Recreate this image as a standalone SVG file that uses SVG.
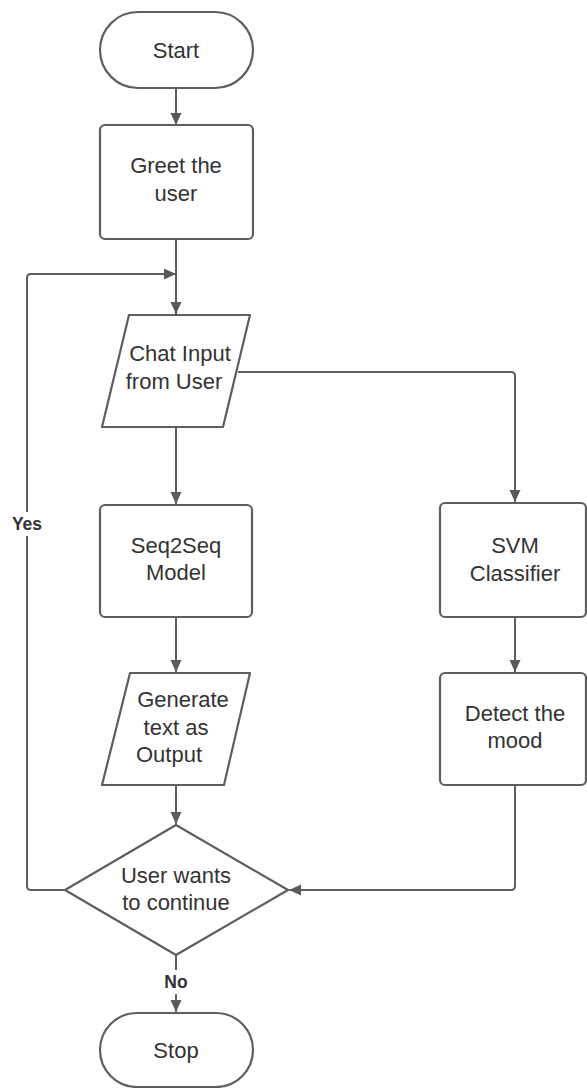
<svg xmlns="http://www.w3.org/2000/svg" width="587" height="1088" viewBox="0 0 587 1088">
<defs>
<marker id="arr" markerUnits="userSpaceOnUse" markerWidth="12" markerHeight="12" refX="12" refY="6" orient="auto">
<path d="M0,0.5 L12,6 L0,11.5 z" fill="#5a5a5a"/>
</marker>
<style>
.shape{fill:#ffffff;stroke:#5e5e5e;stroke-width:2.2;stroke-linejoin:round}
.conn{fill:none;stroke:#5e5e5e;stroke-width:2;marker-end:url(#arr)}
.line{fill:none;stroke:#5e5e5e;stroke-width:2}
.t{font-family:"Liberation Sans",Arial,sans-serif;font-size:22px;fill:#333333;text-anchor:middle}
.lbl{font-family:"Liberation Sans",Arial,sans-serif;font-size:17.5px;font-weight:bold;fill:#333333;text-anchor:middle}
</style>
</defs>
<rect width="587" height="1088" fill="#ffffff"/>
<g id="connectors">
<path class="conn" d="M176 88 V125"/>
<path class="conn" d="M176 239 V314"/>
<path class="conn" d="M65 890 H31 Q27 890 27 886 V278 Q27 274 31 274 H176"/>
<path class="conn" d="M176 427 V504"/>
<path class="conn" d="M238 372 H511 Q515 372 515 376 V502"/>
<path class="conn" d="M176 617 V672"/>
<path class="conn" d="M515 617 V672"/>
<path class="conn" d="M176 785 V824"/>
<path class="conn" d="M515 785 V886 Q515 890 511 890 H289"/>
<path class="conn" d="M176 955 V1012"/>
<rect x="8" y="512" width="38" height="24" fill="#ffffff"/>
<text class="lbl" x="27" y="530">Yes</text>
<rect x="160" y="970" width="32" height="24" fill="#ffffff"/>
<text class="lbl" x="176" y="988">No</text>
</g>
<g id="start">
<rect class="shape" x="100" y="12" width="153" height="76" rx="38" ry="38"/>
<text class="t" x="176" y="58">Start</text>
</g>
<g id="greet">
<rect class="shape" x="100" y="125" width="153" height="114" rx="5" ry="5"/>
<text class="t" x="176" y="173">Greet the</text>
<text class="t" x="176" y="201">user</text>
</g>
<g id="chat">
<path class="shape" d="M129 315 H250 L223 427 H102 Z"/>
<text class="t" x="180" y="361">Chat Input</text>
<text class="t" x="174" y="389">from User</text>
</g>
<g id="seq2seq">
<rect class="shape" x="100" y="505" width="152" height="112" rx="5" ry="5"/>
<text class="t" x="176" y="553">Seq2Seq</text>
<text class="t" x="176" y="580">Model</text>
</g>
<g id="svm">
<rect class="shape" x="440" y="503" width="146" height="114" rx="5" ry="5"/>
<text class="t" x="515" y="553">SVM</text>
<text class="t" x="515" y="581">Classifier</text>
</g>
<g id="generate">
<path class="shape" d="M130 673 H250 L224 785 H102 Z"/>
<text class="t" x="183" y="707">Generate</text>
<text class="t" x="176" y="735">text as</text>
<text class="t" x="169" y="762">Output</text>
</g>
<g id="detect">
<rect class="shape" x="440" y="673" width="146" height="112" rx="5" ry="5"/>
<text class="t" x="515" y="721">Detect the</text>
<text class="t" x="515" y="748">mood</text>
</g>
<g id="decision">
<path class="shape" d="M176 825 L288 890 L176 955 L65 890 Z"/>
<text class="t" x="176" y="883">User wants</text>
<text class="t" x="176" y="910">to continue</text>
</g>
<g id="stop">
<rect class="shape" x="100" y="1013" width="153" height="74" rx="37" ry="37"/>
<text class="t" x="176" y="1058">Stop</text>
</g>
</svg>
